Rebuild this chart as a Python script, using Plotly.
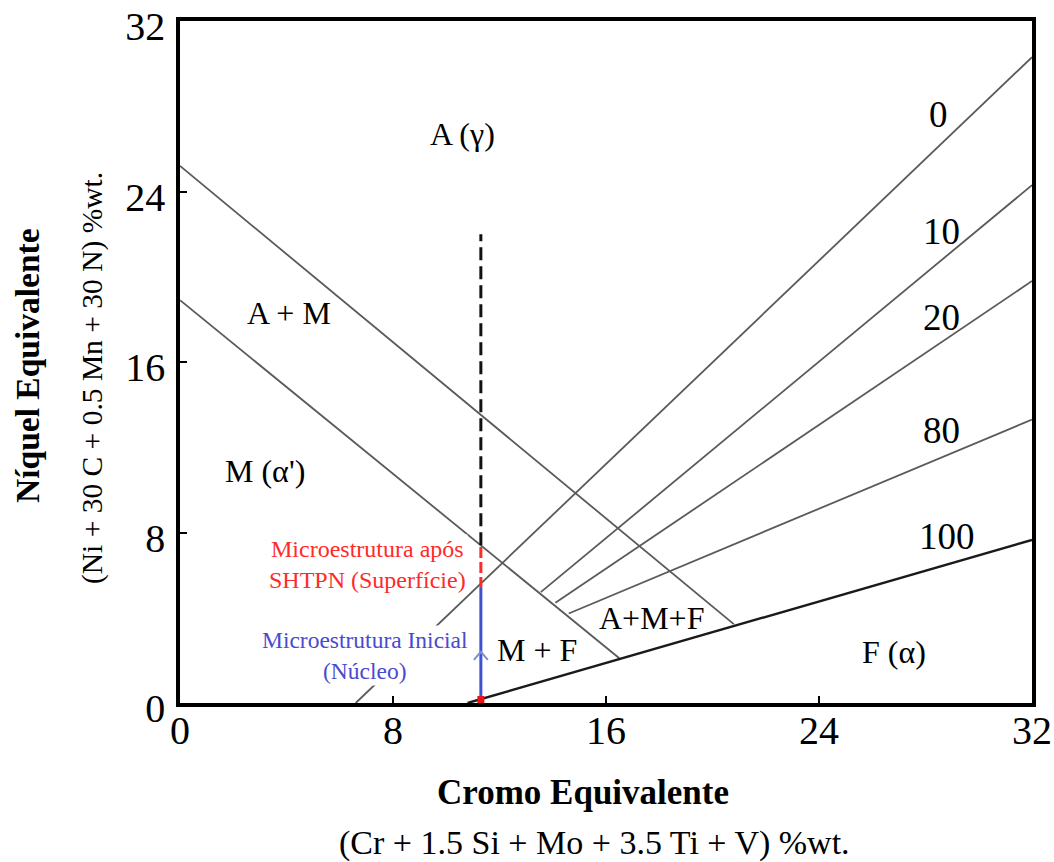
import plotly.graph_objects as go

# Schaeffler diagram axes (Cr-eq / Ni-eq, %wt.)
tick_vals = [0, 8, 16, 24, 32]

# Phase-boundary lines descending from the Ni-eq axis
boundary_x0 = [0.0, 0.0]
boundary_y0 = [25.2, 18.9]
boundary_x1 = [20.8, 16.5]
boundary_y1 = [3.7, 2.1]

# Ferrite iso-lines (% ferrite)
ferrite_labels = ["0", "10", "20", "80", "100"]
ferrite_x0 = [6.6, 13.55, 14.1, 14.6, 10.8]
ferrite_y0 = [0.0, 5.2, 4.7, 4.2, 0.0]
ferrite_x1 = [32.0, 32.0, 32.0, 32.0, 32.0]
ferrite_y1 = [30.3, 24.3, 19.8, 13.3, 7.65]
ferrite_label_x = [28.5, 28.6, 28.6, 28.6, 28.8]
ferrite_label_y = [27.6, 22.1, 18.1, 12.8, 7.8]

# Phase field labels
field_names = ["A (γ)", "A + M", "M (α')", "A+M+F", "M + F", "F (α)"]
field_x = [10.6, 4.1, 3.2, 17.7, 13.4, 26.8]
field_y = [26.7, 18.3, 10.9, 4.0, 2.5, 2.4]

# Steel composition path (Cr-eq fixed, Ni-eq raised by nitriding)
comp_cr = 11.3
core_ni = [0.0, 5.4]
surface_ni = [5.4, 7.4]
projected_ni = [7.4, 22.0]
arrow_ni = 2.4

serif = "Liberation Serif"
line_grey = "#5a5a5a"

fig = go.Figure()

for x0, y0, x1, y1 in zip(boundary_x0, boundary_y0, boundary_x1, boundary_y1):
    fig.add_trace(go.Scatter(x=[x0, x1], y=[y0, y1], mode="lines",
                             line=dict(color=line_grey, width=1.8),
                             hoverinfo="skip", showlegend=False))

for name, x0, y0, x1, y1 in zip(ferrite_labels, ferrite_x0, ferrite_y0,
                                ferrite_x1, ferrite_y1):
    dark = name == "100"
    fig.add_trace(go.Scatter(x=[x0, x1], y=[y0, y1], mode="lines",
                             line=dict(color="#1a1a1a" if dark else line_grey,
                                       width=2.4 if dark else 1.8),
                             hoverinfo="skip", showlegend=False))

# Composition path
fig.add_trace(go.Scatter(x=[comp_cr, comp_cr], y=projected_ni, mode="lines",
                         line=dict(color="#111111", width=3, dash="13px,6px"),
                         hoverinfo="skip", showlegend=False))
fig.add_trace(go.Scatter(x=[comp_cr, comp_cr], y=surface_ni, mode="lines",
                         line=dict(color="#ff2a2a", width=3, dash="11px,4px"),
                         hoverinfo="skip", showlegend=False))
fig.add_trace(go.Scatter(x=[comp_cr, comp_cr], y=core_ni, mode="lines",
                         line=dict(color="#4050d0", width=3),
                         hoverinfo="skip", showlegend=False))

annotations = []
for name, x, y in zip(ferrite_labels, ferrite_label_x, ferrite_label_y):
    annotations.append(dict(x=x, y=y, xref="x", yref="y", text=name,
                            showarrow=False,
                            font=dict(family=serif, size=37, color="black")))
for name, x, y in zip(field_names, field_x, field_y):
    annotations.append(dict(x=x, y=y, xref="x", yref="y", text=name,
                            showarrow=False,
                            font=dict(family=serif, size=32, color="black")))

annotations.append(dict(x=7.03, y=6.5, xref="x", yref="y",
                        text="Microestrutura após<br>SHTPN (Superfície)",
                        showarrow=False, bgcolor="white", align="center",
                        font=dict(family=serif, size=24, color="#ff2a2a")))
annotations.append(dict(x=6.95, y=2.25, xref="x", yref="y",
                        text="Microestrutura Inicial<br>(Núcleo)",
                        showarrow=False, bgcolor="white", align="center",
                        font=dict(family=serif, size=23.5, color="#4a4ad0")))

# Axis titles
annotations += [
    dict(x=0.473, y=-0.1305, xref="paper", yref="paper",
         xanchor="center", yanchor="middle",
         text="<b>Cromo Equivalente</b>", showarrow=False,
         font=dict(family=serif, size=35, color="black")),
    dict(x=0.487, y=-0.205, xref="paper", yref="paper",
         xanchor="center", yanchor="middle",
         text="(Cr + 1.5 Si + Mo + 3.5 Ti + V) %wt.", showarrow=False,
         font=dict(family=serif, size=34, color="black")),
    dict(x=-0.1796, y=0.4956, xref="paper", yref="paper",
         xanchor="center", yanchor="middle",
         text="<b>Níquel Equivalente</b>", showarrow=False, textangle=-90,
         font=dict(family=serif, size=33.5, color="black")),
    dict(x=-0.1033, y=0.4765, xref="paper", yref="paper",
         xanchor="center", yanchor="middle",
         text="(Ni + 30 C + 0.5 Mn + 30 N) %wt.", showarrow=False,
         textangle=-90,
         font=dict(family=serif, size=29.5, color="black")),
]

shapes = [
    # core composition marker
    dict(type="rect", xref="x", yref="y", xsizemode="pixel", ysizemode="pixel",
         xanchor=comp_cr, yanchor=core_ni[0], x0=-3.5, x1=3.5, y0=0, y1=7,
         fillcolor="#e8161b", line=dict(width=0)),
    # direction chevron on the core segment
    dict(type="path", xref="x", yref="y", xsizemode="pixel", ysizemode="pixel",
         xanchor=comp_cr, yanchor=arrow_ni, path="M-7,-8 L0,0 L7,-8",
         line=dict(color="#7b8fd6", width=2)),
]

axis_common = dict(range=[0, 32], tickvals=tick_vals, showgrid=False,
                   zeroline=False, showline=True, linewidth=3.5,
                   linecolor="black", mirror=True, ticks="inside",
                   ticklen=7, tickwidth=2, tickcolor="black",
                   automargin=False, ticklabeloverflow="allow",
                   tickfont=dict(family=serif, size=40, color="black"))

fig.update_layout(
    width=1054, height=862,
    margin=dict(l=180, r=22, t=21, b=159),
    paper_bgcolor="white", plot_bgcolor="white",
    xaxis=dict(**axis_common, ticklabelstandoff=-11),
    yaxis=dict(**axis_common, ticklabelstandoff=3, ticklabelshift=5),
    annotations=annotations,
    shapes=shapes,
)

fig.write_html("out.html")
